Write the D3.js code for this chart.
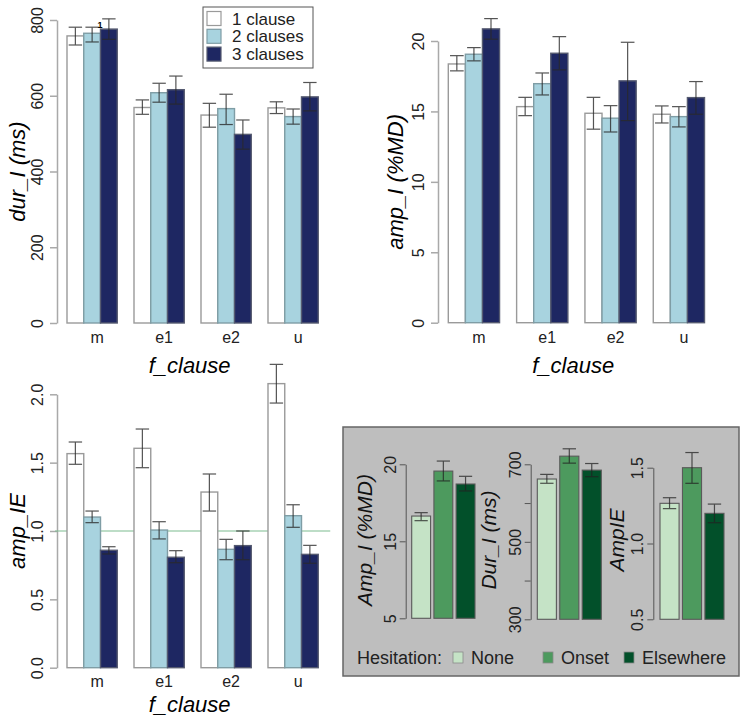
<!DOCTYPE html>
<html>
<head>
<meta charset="utf-8">
<script src="https://cdn.jsdelivr.net/npm/d3@7"></script>
<style>
  body { margin: 0; background: #fff; }
  svg { display: block; font-family: "Liberation Sans", Arial, sans-serif; }
</style>
</head>
<body>
<div id="chart"></div>
<script>
// categories / series
const clauses = ["m", "e1", "e2", "u"];
const clauseSeries = ["1 clause", "2 clauses", "3 clauses"];
const hesitation = ["None", "Onset", "Elsewhere"];

// dur_I (ms): mean per f_clause x series, plus lower / upper error
const durMean = [[758, 765, 776], [569, 608, 616], [549, 566, 498], [568, 545, 597]];
const durLow  = [[734, 742, 749], [551, 583, 578], [517, 524, 459], [553, 525, 560]];
const durHigh = [[781, 781, 803], [589, 633, 652], [580, 604, 536], [584, 565, 635]];

// amp_I (%MD)
const ampMean = [[18.37, 19.06, 20.86], [15.34, 16.97, 19.13], [14.87, 14.52, 17.17], [14.8, 14.63, 15.98]];
const ampLow  = [[17.88, 18.59, 20.13], [14.7, 16.17, 17.95], [13.74, 13.54, 14.35], [14.18, 13.9, 14.8]];
const ampHigh = [[18.96, 19.53, 21.59], [16.0, 17.73, 20.31], [16.0, 15.41, 19.91], [15.39, 15.34, 17.12]];

// amp_IE
const ieMean = [[1.566, 1.102, 0.859], [1.605, 1.007, 0.808], [1.285, 0.866, 0.893], [2.078, 1.112, 0.829]];
const ieLow  = [[1.488, 1.061, 0.832], [1.463, 0.942, 0.768], [1.146, 0.79, 0.79], [1.936, 1.027, 0.764]];
const ieHigh = [[1.651, 1.146, 0.885], [1.746, 1.068, 0.856], [1.417, 0.939, 1.0], [2.219, 1.192, 0.895]];

// inset: hesitation
const hAmpMean = [16.64, 19.56, 18.72], hAmpLow = [16.34, 18.92, 18.27], hAmpHigh = [16.86, 20.21, 19.22];
const hDurMean = [662, 721, 685], hDurLow = [651, 703, 668], hDurHigh = [674, 740, 702];
const hIeMean = [1.265, 1.5, 1.199], hIeLow = [1.23, 1.397, 1.137], hIeHigh = [1.302, 1.60, 1.26];

// tick labels
const durTicks = [0, 200, 400, 600, 800];
const ampTicks = [0, 5, 10, 15, 20];
const ieTicks = [0, 0.5, 1, 1.5, 2];
const ieTickLabels = ["0.0", "0.5", "1.0", "1.5", "2.0"];
const hAmpTicks = [10, 15, 20], hAmpTickLabels = ["5", "15", "20"];
const hDurTicks = [300, 400, 500, 600, 700], hDurTickLabels = ["300", "", "500", "", "700"];
const hIeTicks = [0.5, 1, 1.5], hIeTickLabels = ["0.5", "1.0", "1.5"];

const clauseColors = ["#ffffff", "#a8d3df", "#1e2762"];
const clauseStroke = ["#9a9a9a", "#7f9da5", "#555a70"];
const hesColors = ["#c5e3c6", "#4d9a5e", "#02502a"];

const svg = d3.select("#chart").append("svg")
    .attr("width", 740)
    .attr("height", 717);

function errorBar(g, x, w, y1, y2, color, opacity) {
    const e = g.append("g").attr("stroke", color).attr("stroke-width", 1.2).attr("opacity", opacity);
    e.append("line").attr("x1", x).attr("x2", x).attr("y1", y1).attr("y2", y2);
    e.append("line").attr("x1", x - w / 2).attr("x2", x + w / 2).attr("y1", y1).attr("y2", y1);
    e.append("line").attr("x1", x - w / 2).attr("x2", x + w / 2).attr("y1", y2).attr("y2", y2);
}

function leftAxis(g, y, ticks, labels, opt) {
    const ax = g.append("g")
        .attr("transform", `translate(${opt.axisX},0)`)
        .call(d3.axisLeft(y).tickValues(ticks).tickSize(opt.tick).tickSizeOuter(0)
            .tickFormat((d, i) => labels ? labels[i] : d));
    ax.select(".domain").attr("stroke", opt.color).attr("stroke-width", opt.width);
    ax.selectAll(".tick line").attr("stroke", opt.color).attr("stroke-width", opt.width);
    ax.selectAll(".tick text")
        .attr("x", 0).attr("dy", 0)
        .attr("text-anchor", "middle")
        .attr("transform", `translate(${-opt.labelOff},0) rotate(-90)`)
        .attr("fill", "#222")
        .attr("font-size", opt.fontSize)
        .attr("font-family", "Liberation Sans, Arial, sans-serif");
}

// main grouped panels
function groupedPanel(cfg) {
    const g = svg.append("g");
    const x0 = d3.scaleBand().domain(clauses).range(cfg.xRange).paddingInner(0.25).paddingOuter(0);
    const x1 = d3.scaleBand().domain(clauseSeries).range([0, x0.bandwidth()]);
    const y = d3.scaleLinear().domain(cfg.domain).range(cfg.yRange);

    leftAxis(g, y, cfg.ticks, cfg.tickLabels, {axisX: cfg.axisX, tick: 7, color: "#a9a9a9", width: 1.5, labelOff: 14, fontSize: "16px"});

    if (cfg.refLine !== undefined) {
        g.append("line")
            .attr("x1", cfg.axisX - 2).attr("x2", cfg.xRange[1] + 12)
            .attr("y1", y(cfg.refLine)).attr("y2", y(cfg.refLine))
            .attr("stroke", "#7dbb8f").attr("stroke-width", 1.2);
    }

    clauses.forEach((c, i) => {
        clauseSeries.forEach((s, j) => {
            g.append("rect")
                .attr("x", x0(c) + x1(s))
                .attr("y", y(cfg.mean[i][j]))
                .attr("width", x1.bandwidth())
                .attr("height", y(cfg.domain[0]) - y(cfg.mean[i][j]))
                .attr("fill", clauseColors[j])
                .attr("stroke", clauseStroke[j])
                .attr("stroke-width", 1.4);
        });
    });
    clauses.forEach((c, i) => {
        clauseSeries.forEach((s, j) => {
            errorBar(g, x0(c) + x1(s) + x1.bandwidth() / 2, x1.bandwidth() * 0.8,
                y(cfg.high[i][j]), y(cfg.low[i][j]), "#2a2a2a", 0.8);
        });
    });

    // category labels
    g.selectAll(".cat").data(clauses).enter().append("text")
        .attr("x", d => x0(d) + x0.bandwidth() / 2 + 5)
        .attr("y", cfg.catY)
        .attr("text-anchor", "middle")
        .attr("font-size", "16px")
        .attr("fill", "#222")
        .text(d => d);

    g.append("text")
        .attr("x", (cfg.axisX + cfg.xRange[1]) / 2 + 2)
        .attr("y", cfg.titleY)
        .attr("text-anchor", "middle")
        .attr("font-size", "22px")
        .attr("font-style", "italic")
        .text("f_clause");

    g.append("text")
        .attr("transform", `translate(${cfg.yTitleX},${(cfg.yRange[0] + cfg.yRange[1]) / 2}) rotate(-90)`)
        .attr("text-anchor", "middle")
        .attr("dy", "0.35em")
        .attr("font-size", "22px")
        .attr("font-style", "italic")
        .text(cfg.yTitle);
    return {g, x0, x1, y};
}

const p1 = groupedPanel({
    xRange: [67, 318.25], axisX: 57, domain: [0, 800], yRange: [323, 20],
    ticks: durTicks, mean: durMean, low: durLow, high: durHigh,
    catY: 343, titleY: 373, yTitleX: 17, yTitle: "dur_I (ms)"
});

groupedPanel({
    xRange: [448.3, 704.5], axisX: 438, domain: [0, 20], yRange: [322.7, 41],
    ticks: ampTicks, mean: ampMean, low: ampLow, high: ampHigh,
    catY: 343, titleY: 373, yTitleX: 395, yTitle: "amp_I (%MD)"
});

groupedPanel({
    xRange: [67, 318.25], axisX: 57, domain: [0, 2], yRange: [667.7, 394.3],
    ticks: ieTicks, tickLabels: ieTickLabels, mean: ieMean, low: ieLow, high: ieHigh, refLine: 1,
    catY: 687, titleY: 712, yTitleX: 17, yTitle: "amp_IE"
});

// stray label near the first group
p1.g.append("text")
    .attr("x", 100).attr("y", 28)
    .attr("text-anchor", "middle")
    .attr("font-size", "9px").attr("font-weight", "bold")
    .text("1");

// legend (clauses)
const leg = svg.append("g");
leg.append("rect").attr("x", 203).attr("y", 7).attr("width", 110).attr("height", 61)
    .attr("fill", "#fff").attr("stroke", "#555").attr("stroke-width", 1);
clauseSeries.forEach((s, j) => {
    const cy = 18.5 + j * 17.8;
    leg.append("rect").attr("x", 207).attr("y", cy - 7).attr("width", 14).attr("height", 14)
        .attr("fill", clauseColors[j]).attr("stroke", clauseStroke[j]).attr("stroke-width", 1.2);
    leg.append("text").attr("x", 232).attr("y", cy + 6)
        .attr("font-size", "17px").attr("fill", "#222").text(s);
});

// inset box
const inset = svg.append("g");
inset.append("rect").attr("x", 343).attr("y", 427).attr("width", 396).attr("height", 249)
    .attr("fill", "#bebebe").attr("stroke", "#666").attr("stroke-width", 1.5);

function hesPanel(cfg) {
    const g = inset.append("g");
    const x = d3.scaleBand().domain(hesitation).range(cfg.xRange).paddingInner(0.15).paddingOuter(0);
    const y = d3.scaleLinear().domain(cfg.domain).range(cfg.yRange);
    leftAxis(g, y, cfg.ticks, cfg.tickLabels, {axisX: cfg.axisX, tick: 6, color: "#555", width: 1, labelOff: 10, fontSize: "16px"});
    hesitation.forEach((h, i) => {
        g.append("rect")
            .attr("x", x(h)).attr("y", y(cfg.mean[i]))
            .attr("width", x.bandwidth())
            .attr("height", y(cfg.domain[0]) - y(cfg.mean[i]))
            .attr("fill", hesColors[i])
            .attr("stroke", "#5a5a5a").attr("stroke-width", 1.1);
    });
    hesitation.forEach((h, i) => {
        errorBar(g, x(h) + x.bandwidth() / 2, x.bandwidth() * 0.7, y(cfg.high[i]), y(cfg.low[i]), "#222", 0.75);
    });
    g.append("text")
        .attr("transform", `translate(${cfg.titleX},540) rotate(-90)`)
        .attr("text-anchor", "middle")
        .attr("dy", "0.35em")
        .attr("font-size", "21px")
        .attr("font-style", "italic")
        .attr("fill", "#111")
        .text(cfg.title);
}

hesPanel({xRange: [411.7, 475], axisX: 405.7, domain: [10, 20], yRange: [618.3, 464.3],
    ticks: hAmpTicks, tickLabels: hAmpTickLabels, mean: hAmpMean, low: hAmpLow, high: hAmpHigh,
    titleX: 365, title: "Amp_I (%MD)"});
hesPanel({xRange: [537.3, 601.3], axisX: 530.7, domain: [300, 700], yRange: [619.3, 464.3],
    ticks: hDurTicks, tickLabels: hDurTickLabels, mean: hDurMean, low: hDurLow, high: hDurHigh,
    titleX: 489, title: "Dur_I (ms)"});
hesPanel({xRange: [660, 724], axisX: 653.3, domain: [0.5, 1.5], yRange: [619.3, 467.7],
    ticks: hIeTicks, tickLabels: hIeTickLabels, mean: hIeMean, low: hIeLow, high: hIeHigh,
    titleX: 617, title: "AmpIE"});

// inset legend
const hl = inset.append("g");
hl.append("text").attr("x", 357).attr("y", 664).attr("font-size", "18px").attr("fill", "#222").text("Hesitation:");
const legX = [453, 543, 624];
hesitation.forEach((h, i) => {
    hl.append("rect").attr("x", legX[i]).attr("y", 652).attr("width", 10).attr("height", 11)
        .attr("fill", hesColors[i]).attr("stroke", "#8a8a8a").attr("stroke-width", 0.8);
    hl.append("text").attr("x", legX[i] + 18).attr("y", 664)
        .attr("font-size", "18px").attr("fill", "#222").text(h);
});
</script>
</body>
</html>
